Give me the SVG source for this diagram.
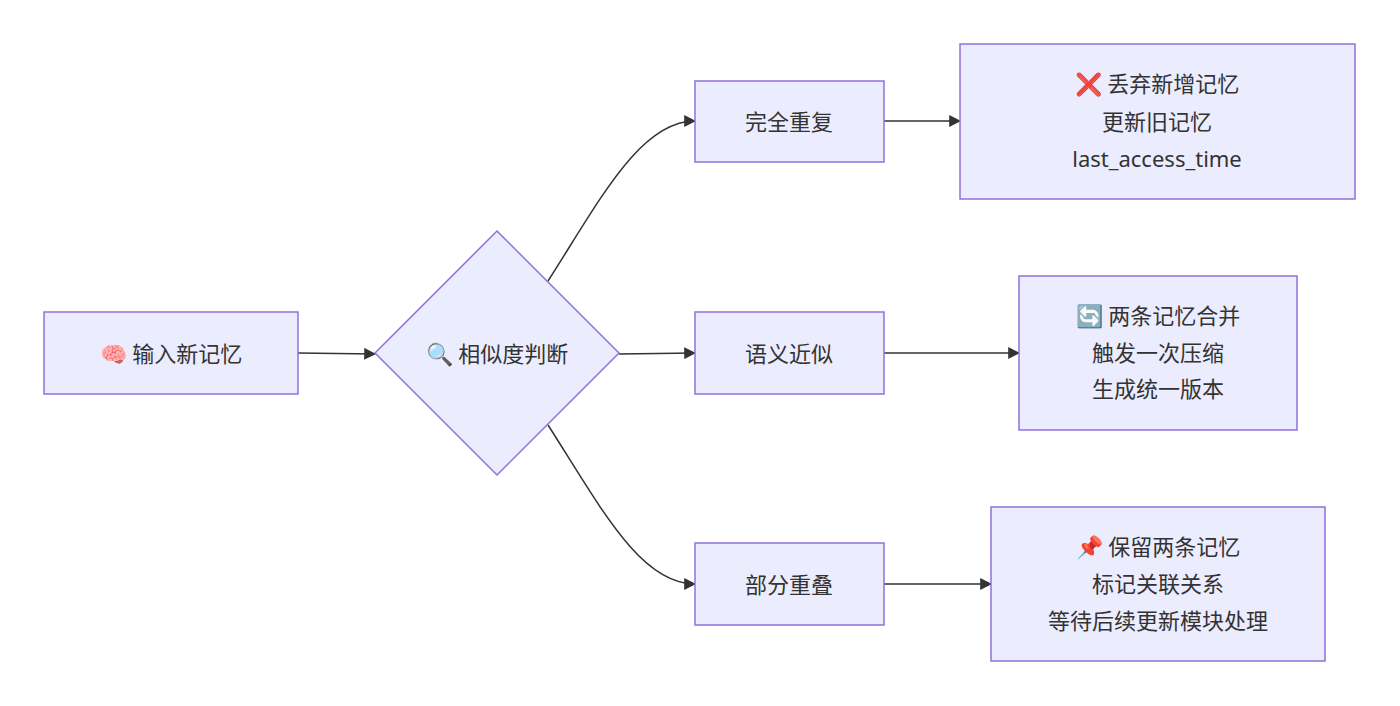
<svg xmlns="http://www.w3.org/2000/svg" width="1400" height="706" viewBox="0 0 1400 706">
<style>
.n{fill:#ECECFF;stroke:#9370DB;stroke-width:1.5}
.t{font-family:"Noto Sans","Noto Sans CJK SC",sans-serif;font-size:22px;fill:#333;text-anchor:middle;dominant-baseline:central}
.e{fill:none;stroke:#333;stroke-width:1.5;marker-end:url(#a)}
</style>
<defs><marker id="a" viewBox="0 0 10 10" refX="9" refY="5" markerWidth="8" markerHeight="8" orient="auto"><path d="M0,0L10,5L0,10z" fill="#333"/></marker></defs>
<rect width="1400" height="706" fill="#fff"/>
<g id="edges">
<path class="e" d="M298,353L375,354"/>
<path class="e" d="M548,281C600,200 640,121 695,121"/>
<path class="e" d="M619,354L695,353"/>
<path class="e" d="M548,425C600,506 640,584 695,584"/>
<path class="e" d="M884,121L960,121"/>
<path class="e" d="M884,353L1019,353"/>
<path class="e" d="M884,584L991,584"/>
</g>
<g id="A"><rect class="n" x="44" y="312" width="254" height="82"/><text class="t" x="171" y="353">🧠 输入新记忆</text></g>
<g id="D"><polygon class="n" points="497,231 619,353 497,475 375,353"/><text class="t" x="497" y="353">🔍 相似度判断</text></g>
<g id="B1"><rect class="n" x="695" y="81" width="189" height="81"/><text class="t" x="789" y="121">完全重复</text></g>
<g id="B2"><rect class="n" x="695" y="312" width="189" height="82"/><text class="t" x="789" y="353">语义近似</text></g>
<g id="B3"><rect class="n" x="695" y="543" width="189" height="82"/><text class="t" x="789" y="584">部分重叠</text></g>
<g id="C1"><rect class="n" x="960" y="44" width="395" height="155"/><text class="t" x="1157" y="83">❌ 丢弃新增记忆</text><text class="t" x="1157" y="121">更新旧记忆</text><text class="t" x="1157" y="158">last_access_time</text></g>
<g id="C2"><rect class="n" x="1019" y="276" width="278" height="154"/><text class="t" x="1158" y="315">🔄 两条记忆合并</text><text class="t" x="1158" y="352">触发一次压缩</text><text class="t" x="1158" y="388">生成统一版本</text></g>
<g id="C3"><rect class="n" x="991" y="507" width="334" height="154"/><text class="t" x="1158" y="546">📌 保留两条记忆</text><text class="t" x="1158" y="583">标记关联关系</text><text class="t" x="1158" y="620">等待后续更新模块处理</text></g>
</svg>
